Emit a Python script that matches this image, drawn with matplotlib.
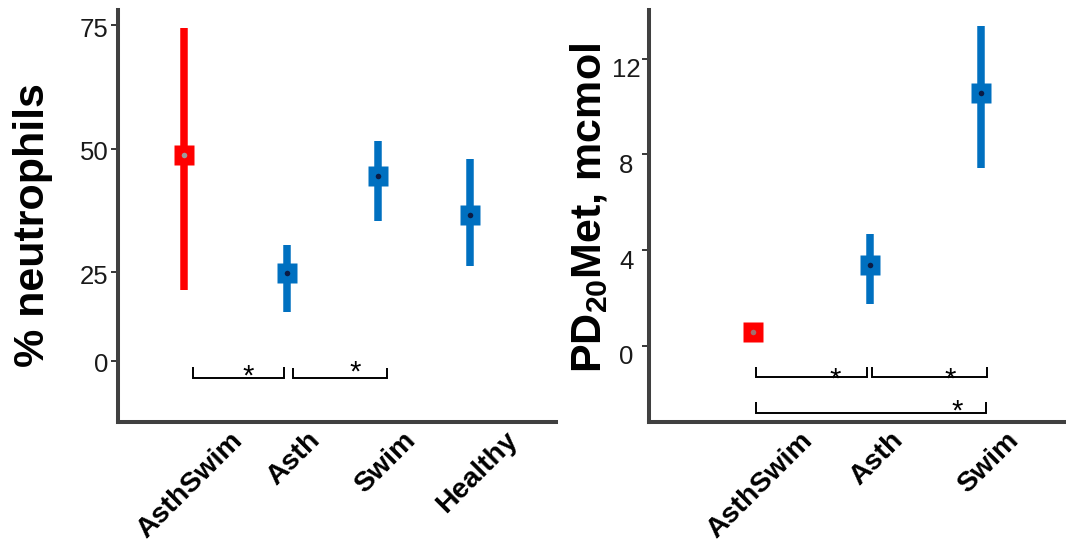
import matplotlib
matplotlib.use('Agg')
import matplotlib.pyplot as plt
from matplotlib.transforms import ScaledTranslation

plt.rcParams['font.family'] = ['Liberation Sans', 'DejaVu Sans']
plt.rcParams['mathtext.fontset'] = 'custom'
plt.rcParams['mathtext.rm'] = 'Liberation Sans'
plt.rcParams['mathtext.bf'] = 'Liberation Sans:bold'

# ---------------- data ----------------
neut_groups = ['AsthSwim', 'Asth', 'Swim', 'Healthy']
neut_center = [48.8, 24.8, 44.6, 36.6]
neut_low = [21.5, 16.9, 35.5, 26.3]
neut_high = [74.5, 30.6, 51.5, 47.9]
neut_tick_labels = ['75', '50', '25', '0']

pd20_groups = ['AsthSwim', 'Asth', 'Swim']
pd20_center = [0.59, 3.39, 10.58]
pd20_low = [0.59, 1.75, 7.42]
pd20_high = [0.59, 4.67, 13.38]
pd20_tick_labels = ['0', '4', '8', '12']

# ---------------- style / layout ----------------
RED = '#FF0000'
BLUE = '#0070C0'
SPINE = '#404040'
neut_colors = [RED, BLUE, BLUE, BLUE]
pd20_colors = [RED, BLUE, BLUE]
neut_dot = ['#9c9c9c', '#0b1c45', '#0b1c45', '#0b1c45']
pd20_dot = ['#a07070', '#0b1c45', '#0b1c45']
neut_x = [0, 1.125, 2.114, 3.114]
pd20_x = [0, 1.025, 2.003]
neut_tick_pos = [75, 50, 25, 7.1]
pd20_tick_pos = [0, 4, 8, 12]

W, H = 1066, 546
fig = plt.figure(figsize=(W / 100, H / 100), dpi=100)


def px_axes(x0, y0, x1, y1):
    return fig.add_axes([x0 / W, 1 - y1 / H, (x1 - x0) / W, (y1 - y0) / H])


def style(ax, xpos, labels, tpos, tlabels, yha='right', ypad=2, ydy=-0.02):
    for s in ['top', 'right']:
        ax.spines[s].set_visible(False)
    for s in ['left', 'bottom']:
        ax.spines[s].set_linewidth(2.9)
        ax.spines[s].set_color(SPINE)
        ax.spines[s].set_capstyle('projecting')
    ax.set_yticks(tpos)
    ax.set_yticklabels(tlabels, fontsize=18.5, color='#1a1a1a', ha=yha)
    ax.tick_params(axis='y', length=5, width=1.1, color='black', pad=ypad)
    yoff = ScaledTranslation(0, ydy, fig.dpi_scale_trans)
    for lab in ax.get_yticklabels():
        lab.set_transform(lab.get_transform() + yoff)
    ax.set_xticks(xpos)
    ax.set_xticklabels(labels, fontsize=20.5, fontweight='bold', rotation=45,
                       ha='center', va='top', rotation_mode='default')
    ax.tick_params(axis='x', length=0, pad=4)
    off = ScaledTranslation(0.07, 0, fig.dpi_scale_trans)
    for lab in ax.get_xticklabels():
        lab.set_transform(lab.get_transform() + off)


def draw(ax, xpos, center, low, high, colors, dots):
    for x, c, lo, hi, col, dc in zip(xpos, center, low, high, colors, dots):
        if hi > lo:
            ax.vlines(x, lo, hi, color=col, linewidth=5.4, capstyle='butt', zorder=2)
        ax.plot([x], [c], marker='s', markersize=13.7, color=col, mec='none', zorder=3)
        ax.plot([x], [c], marker='o', markersize=4.0, color=dc, mec='none', zorder=4)


def bracket(ax, x0, x1, ybot, ytop):
    ax.plot([x0, x0, x1, x1], [ytop, ybot, ybot, ytop], color='black',
            linewidth=1.4, solid_capstyle='butt', solid_joinstyle='miter', zorder=2)


def star(ax, x, y):
    ax.text(x, y, '*', fontsize=21, ha='center', va='center', color='black')


# ---------------- left panel ----------------
ax1 = px_axes(118, 10, 556, 421.7)
draw(ax1, neut_x, neut_center, neut_low, neut_high, neut_colors, neut_dot)
ax1.set_xlim(-0.712, 4.049)
ax1.set_ylim(-5.2, 78.1)
style(ax1, neut_x, neut_groups, neut_tick_pos, neut_tick_labels)
bracket(ax1, 0.10, 1.092, 3.58, 5.93)
bracket(ax1, 1.187, 2.215, 3.58, 5.73)
star(ax1, 0.698, 4.0)
star(ax1, 1.864, 4.8)

# ---------------- right panel ----------------
ax2 = px_axes(649, 10, 1066, 421.7)
draw(ax2, pd20_x, pd20_center, pd20_low, pd20_high, pd20_colors, pd20_dot)
ax2.set_xlim(-0.91, 2.748)
ax2.set_ylim(-3.17, 14.03)
style(ax2, pd20_x, pd20_groups, pd20_tick_pos, pd20_tick_labels,
      yha='center', ypad=11.5, ydy=-0.09)
bracket(ax2, 0.029, 1.0, -1.29, -0.87)
bracket(ax2, 1.044, 2.055, -1.29, -0.87)
bracket(ax2, 0.029, 2.046, -2.82, -2.34)
star(ax2, 0.72, -1.4)
star(ax2, 1.73, -1.4)
star(ax2, 1.79, -2.75)

# ---------------- axis titles ----------------
fig.text(33 / W, 1 - 225 / H, '% neutrophils', rotation=90, fontsize=31,
         fontweight='bold', ha='center', va='center')
fig.text(589 / W, 1 - 208 / H, r'PD$_{\mathbf{20}}$Met, mcmol', rotation=90,
         fontsize=31, fontweight='bold', ha='center', va='center')

fig.savefig('out.png', dpi=100)
